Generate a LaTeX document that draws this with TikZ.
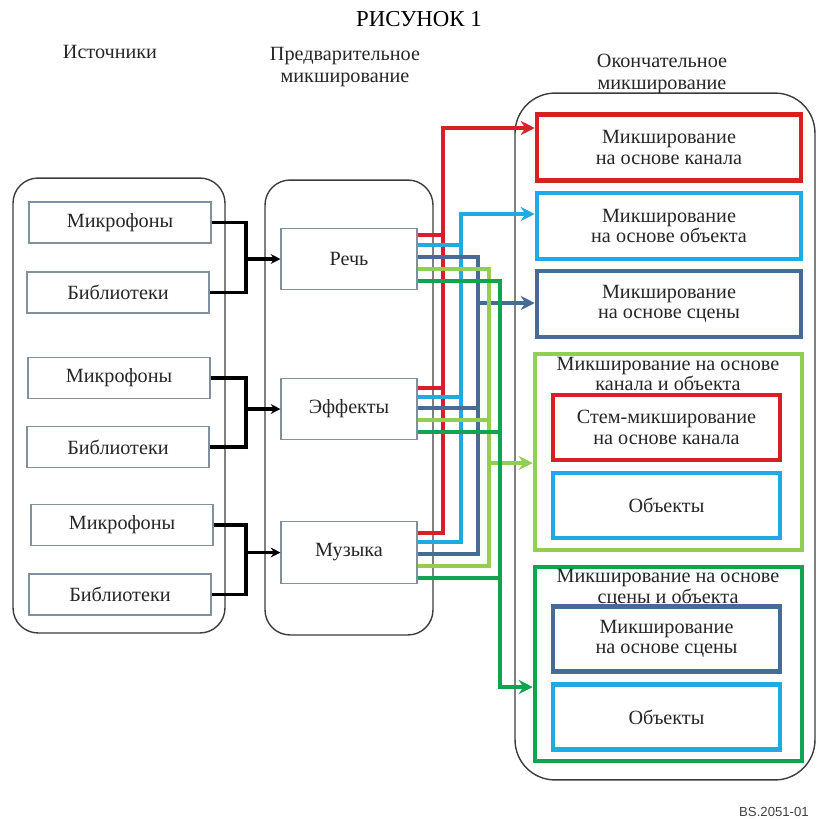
\documentclass[tikz,border=0pt]{standalone}
\usepackage{fontspec}
\setmainfont{Liberation Serif}
\newfontfamily\labelsans{Liberation Sans}
\usetikzlibrary{arrows.meta,positioning}

\definecolor{mixred}{RGB}{218,30,38}
\definecolor{mixcyan}{RGB}{30,170,226}
\definecolor{mixsteel}{RGB}{70,108,150}
\definecolor{mixlime}{RGB}{146,206,82}
\definecolor{mixgreen}{RGB}{16,164,82}
\definecolor{boxgray}{RGB}{128,144,156}
\definecolor{panelgray}{RGB}{60,60,60}

\begin{document}
\begin{tikzpicture}[x=0.02cm, y=-0.02cm,
        txt/.style={font=\fontsize{11.5}{11.5}\selectfont, align=center, text=black!85},
        panel/.style={draw=panelgray, line width=0.8pt, rounded corners=0.5cm},
        srcbox/.style={txt, draw=boxgray, line width=0.6pt, minimum width=3.64cm, minimum height=0.82cm},
        prebox/.style={txt, draw=boxgray, line width=0.6pt, minimum width=2.72cm, minimum height=1.23cm},
        mixbox/.style={txt, line width=2.6pt, minimum width=5.28cm, minimum height=1.32cm},
        subbox/.style={txt, line width=2.6pt, minimum width=4.54cm, minimum height=1.3cm},
        groupbox/.style={line width=2.6pt, minimum width=5.34cm},
        grouphead/.style={txt, font=\fontsize{11.5}{10.4}\selectfont},
        feed/.style={line width=2pt, black},
        feedtip/.style={-{Stealth[length=5.5pt,width=5.5pt]}},
        wire/.style={line width=2.2pt},
        wiretip/.style={-{Stealth[length=8pt,width=8pt]}}
    ]
    \useasboundingbox (0,0) rectangle (817,819);

    % headings
    \node[font=\fontsize{13}{13}\selectfont] (title) at (419,19) {РИСУНОК 1};
    \node[txt] (srchead) at (110,52) {Источники};
    \node[txt, font=\fontsize{11.5}{13}\selectfont] (prehead) at (345,67) {Предварительное\\микширование};
    \node[txt, font=\fontsize{11.5}{13}\selectfont] (finhead) at (662,74) {Окончательное\\микширование};

    % panels
    \node[panel, minimum width=4.24cm, minimum height=9.1cm] (srcpanel) at (119,405.5) {};
    \node[panel, minimum width=3.36cm, minimum height=9.1cm] (prepanel) at (349,407.5) {};
    \node[panel, rounded corners=0.8cm, minimum width=6cm, minimum height=13.74cm] (finpanel) at (665,436.5) {};

    \begin{scope}[every node/.style={srcbox}]
        \node (mic1) at (120,222.5) {Микрофоны};
        \node (lib1) at (118,292.5) {Библиотеки};
        \node (mic2) at (119,378) {Микрофоны};
        \node (lib2) at (118,447) {Библиотеки};
        \node (mic3) at (122,525) {Микрофоны};
        \node (lib3) at (120,594.5) {Библиотеки};
    \end{scope}

    \begin{scope}[every node/.style={prebox}]
        \node (speech) at (349,259) {Речь};
        \node (effects) at (349,409) {Эффекты};
        \node (music) at (349,552.5) {Музыка};
    \end{scope}

    % final mixes
    \node[mixbox, draw=mixred] (chan) at (669,147.5) {Микширование\\на основе канала};
    \node[mixbox, draw=mixcyan] (obj) at (669,226) {Микширование\\на основе объекта};
    \node[mixbox, draw=mixsteel] (scene) at (669,304) {Микширование\\на основе сцены};

    \node[groupbox, draw=mixlime, minimum height=3.92cm] (chobj) at (668.5,452) {};
    \node[grouphead] (chobjhead) at (668,374) {Микширование на основе\\канала и объекта};
    \node[subbox, draw=mixred] (stem) at (666.5,427.5) {Стем-микширование\\на основе канала};
    \node[subbox, draw=mixcyan] (chobjitems) at (666.5,505.5) {Объекты};

    \node[groupbox, draw=mixgreen, minimum height=3.88cm] (scobj) at (668.5,664) {};
    \node[grouphead] (scobjhead) at (668,588.5) {Микширование на основе\\сцены и объекта};
    \node[subbox, draw=mixsteel] (scobjscene) at (666.5,639) {Микширование\\на основе сцены};
    \node[subbox, draw=mixcyan] (scobjitems) at (666.5,717) {Объекты};

    % sources into pre-mixes
    \coordinate (fork) at (246,0);
    \draw[feed] (mic1.east) -| (fork |- lib1) -- (lib1.east);
    \draw[feed] (mic2.east) -| (fork |- lib2) -- (lib2.east);
    \draw[feed] (mic3.east) -| (fork |- lib3) -- (lib3.east);
    \draw[feed, feedtip] (fork |- speech) -- (speech.west);
    \draw[feed, feedtip] (fork |- effects) -- (effects.west);
    \draw[feed, feedtip] (fork |- music) -- (music.west);

    % pre-mixes into final mixes
    \coordinate (busR) at (443,0);
    \coordinate (busC) at (461,0);
    \coordinate (busS) at (478,0);
    \coordinate (busL) at (489,0);
    \coordinate (busD) at (500,0);

    \draw[wire, mixred, wiretip] (music.east |- 0,533) -| (busR |- 0,128) -- (chan.west |- 0,128);
    \draw[wire, mixred] (speech.east |- 0,235) -- (busR |- 0,235);
    \draw[wire, mixred] (effects.east |- 0,388) -- (busR |- 0,388);

    \draw[wire, mixcyan, wiretip] (music.east |- 0,542) -| (busC |- 0,214) -- (obj.west |- 0,214);
    \draw[wire, mixcyan] (speech.east |- 0,245) -- (busC |- 0,245);
    \draw[wire, mixcyan] (effects.east |- 0,397) -- (busC |- 0,397);

    \draw[wire, mixsteel] (speech.east |- 0,257) -| (busS |- 0,554) -- (music.east |- 0,554);
    \draw[wire, mixsteel, wiretip] (busS |- 0,303) -- (scene.west |- 0,303);
    \draw[wire, mixsteel] (effects.east |- 0,408) -- (busS |- 0,408);

    \draw[wire, mixlime] (speech.east |- 0,269) -| (busL |- 0,566) -- (music.east |- 0,566);
    \draw[wire, mixlime, wiretip] (busL |- 0,463) -- (chobj.west |- 0,463);
    \draw[wire, mixlime] (effects.east |- 0,420) -- (busL |- 0,420);

    \draw[wire, mixgreen, wiretip] (speech.east |- 0,281) -| (busD |- 0,687) -- (scobj.west |- 0,687);
    \draw[wire, mixgreen] (effects.east |- 0,432) -- (busD |- 0,432);
    \draw[wire, mixgreen] (music.east |- 0,578) -- (busD |- 0,578);

    \node[anchor=east, font=\labelsans\fontsize{7.5}{7.5}\selectfont, text=black!75] (figid) at (815,812) {BS.2051-01};
\end{tikzpicture}
\end{document}
